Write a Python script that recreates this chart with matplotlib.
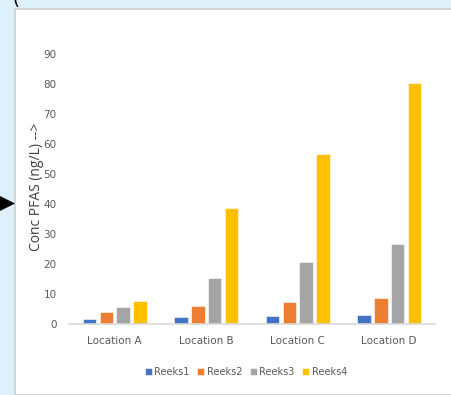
import numpy as np
import matplotlib.pyplot as plt
from matplotlib.patches import Rectangle, Polygon

# locaties en meetreeksen (conc PFAS in ng/L)
locations = ["Location A", "Location B", "Location C", "Location D"]
series_names = ["Reeks1", "Reeks2", "Reeks3", "Reeks4"]
reeks1 = [1.8, 2.3, 2.7, 3.0]
reeks2 = [3.9, 6.1, 7.3, 8.7]
reeks3 = [5.8, 15.3, 20.7, 26.7]
reeks4 = [7.8, 38.8, 56.8, 80.5]
yticks = [0, 10, 20, 30, 40, 50, 60, 70, 80, 90]

colors = ["#4472C4", "#ED7D31", "#A5A5A5", "#FFC000"]
font = ["Liberation Sans Narrow", "DejaVu Sans"]
plt.rcParams["font.family"] = font

W, H = 452, 395
fig = plt.figure(figsize=(W / 100, H / 100), dpi=100)
fig.patch.set_facecolor("#DEF0FA")

# wit paneel met grijze rand
panel = Rectangle((15 / W, 0), 1, 1 - 9 / H, transform=fig.transFigure,
                  facecolor="white", edgecolor="#CFCFCF", linewidth=1.2,
                  zorder=-10)
fig.patches.append(panel)

# pijltje links
arrow = Polygon([(0, 1 - 196 / H), (0, 1 - 211 / H), (15 / W, 1 - 203.5 / H)],
                closed=True, transform=fig.transFigure, facecolor="black",
                edgecolor="none", zorder=-5)
fig.patches.append(arrow)
fig.text(13 / W, 1 - 9 / H, "(", fontsize=13, color="black",
         ha="left", va="bottom", family="DejaVu Sans")

ax = fig.add_axes([69 / W, 71 / H, 366 / W, 270 / H])
ax.set_facecolor("none")
ax.set_zorder(2)

x = np.arange(len(locations))
data = [reeks1, reeks2, reeks3, reeks4]
width = 0.147
step = 0.183
for i, (vals, name) in enumerate(zip(data, series_names)):
    ax.bar(x + (i - 1.5) * step, vals, width, color=colors[i], label=name,
           edgecolor="white", linewidth=0.4)

ax.set_xlim(-0.5, len(locations) - 0.5)
ax.set_ylim(0, 90)
ax.set_yticks(yticks)
ax.set_xticks(x)
ax.set_xticklabels(locations)

for s in ["top", "right", "left"]:
    ax.spines[s].set_visible(False)
ax.spines["bottom"].set_color("#D9D9D9")
ax.spines["bottom"].set_linewidth(1.2)
ax.tick_params(axis="both", length=0, colors="#595959", labelsize=7.5)
ax.tick_params(axis="y", pad=9)
ax.tick_params(axis="x", pad=9)

fig.text(37 / W, 1 - 187 / H, "Conc PFAS (ng/L) -->", rotation=90,
         ha="center", va="center", fontsize=10, color="#404040",
         family=["Open Sans", "DejaVu Sans"])

fig.legend(loc="center", bbox_to_anchor=(246 / W, 1 - 372 / H), ncol=4,
           frameon=False, fontsize=7, handlelength=0.7, handleheight=0.7,
           handletextpad=0.25, columnspacing=0.8, labelcolor="#595959")

fig.savefig("out.png", dpi=100, facecolor=fig.get_facecolor())
